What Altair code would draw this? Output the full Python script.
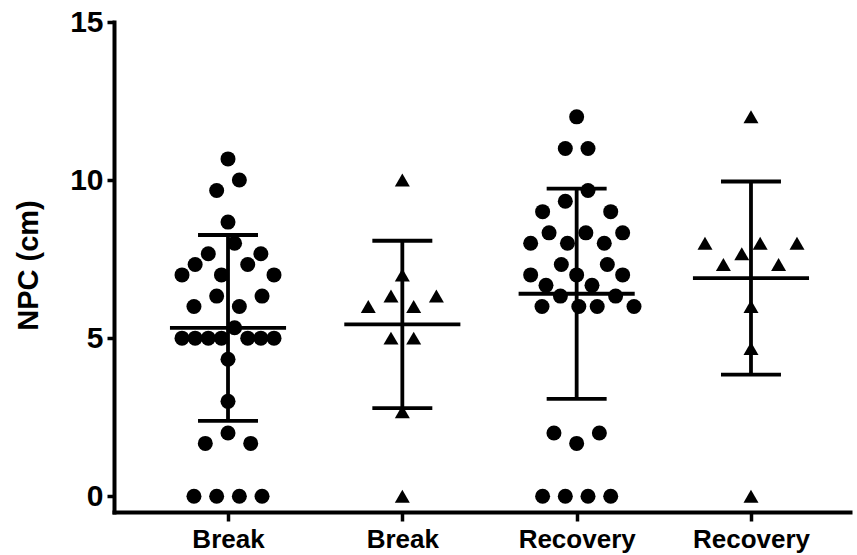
import json

import altair as alt
import pandas as pd

# Group labels along the x axis and the marker used for each group
groups = ["Break", "Break", "Recovery", "Recovery"]
markers = ["circle", "triangle", "circle", "triangle"]

# NPC values (cm) per group
break_circles = [10.67, 10, 9.67, 8.67, 8, 7.67, 7.67, 7.33, 7.33, 7, 7, 7,
                 6.33, 6.33, 6, 6, 5.33, 5, 5, 5, 5, 5, 5, 5, 4.33, 3, 2,
                 1.67, 1.67, 0, 0, 0, 0]
break_triangles = [10, 7, 6.33, 6.33, 6, 6, 5, 5, 2.67, 0]
recovery_circles = [12, 11, 11, 9.67, 9.33, 9, 9, 8.33, 8.33, 8.33, 8, 8, 8,
                    7.33, 7.33, 7, 7, 7, 6.67, 6.67, 6.33, 6.33, 6, 6, 6, 6,
                    2, 2, 1.67, 0, 0, 0, 0]
recovery_triangles = [12, 8, 8, 8, 7.67, 7.33, 7.33, 6, 4.67, 0]

series = [break_circles, break_triangles, recovery_circles, recovery_triangles]

# Plot geometry
PLOT_W, PLOT_H = 736, 490
X_DOMAIN = [0.346, 4.568]
Y_DOMAIN = [-0.5, 15]
PX_PER_X = PLOT_W / (X_DOMAIN[1] - X_DOMAIN[0])
PX_PER_Y = PLOT_H / (Y_DOMAIN[1] - Y_DOMAIN[0])
DOT = 15.0          # marker diameter, px
SLOT = 22.7         # preferred horizontal slot spacing, px
MAX_HALF = 46.0     # widest half-spread of one cluster, px
NEAR = 0.34         # values closer than this share a cluster
MAX_CLUSTER = 8


def scatter_offsets(values):
    """Horizontal px offsets for a column scatter: nearby values share evenly
    spaced, centred slots; neighbouring clusters are shifted if they touch."""
    counts = {}
    for v in values:
        counts[v] = counts.get(v, 0) + 1
    distinct = sorted(counts, reverse=True)

    clusters = []
    for v in distinct:
        if (clusters and clusters[-1][-1] - v <= NEAR
                and sum(counts[u] for u in clusters[-1]) + counts[v] <= MAX_CLUSTER):
            clusters[-1].append(v)
        else:
            clusters.append([v])

    placed = []
    slots = {v: [] for v in distinct}
    for cl in clusters:
        pts = []
        for v in cl:
            c = counts[v]
            pts += [((k + 0.5) / c, v) for k in range(c)]
        order = [v for _, v in sorted(pts)]
        n = len(order)
        step = min(SLOT, 2 * MAX_HALF / (n - 1)) if n > 1 else 0.0
        xs = [(k - (n - 1) / 2) * step for k in range(n)]

        def clashes(seq, shift):
            hits = 0
            for x, v in zip(xs, seq):
                for px, pv in placed:
                    dy = (v - pv) * PX_PER_Y
                    if ((x + shift - px) ** 2 + dy ** 2) ** 0.5 < DOT - 0.5:
                        hits += 1
            return hits

        best = None
        for shift in (0.0, SLOT / 2, -SLOT / 2):
            for seq in (order, order[::-1]):
                h = clashes(seq, shift)
                if best is None or h < best[0]:
                    best = (h, seq, shift)
        _, seq, shift = best
        for x, v in zip(xs, seq):
            placed.append((x + shift, v))
            slots[v].append(x + shift)
    return [slots[v].pop(0) for v in values]


records = []
for i, (name, marker, vals) in enumerate(zip(groups, markers, series)):
    pos = i + 1
    for v, off in zip(vals, scatter_offsets(vals)):
        records.append({"group": name, "pos": pos, "marker": marker,
                        "value": v, "x": pos + off / PX_PER_X})
df = pd.DataFrame(records)

FONT = "Liberation Sans"
x_scale = alt.Scale(domain=X_DOMAIN, nice=False, zero=False)
y_scale = alt.Scale(domain=Y_DOMAIN, nice=False, zero=False)
label_expr = json.dumps(groups) + "[datum.value - 1]"

x_axis = alt.Axis(values=[1, 2, 3, 4], labelExpr=label_expr,
                  tickSize=9, labelPadding=5, labelFontSize=26,
                  labelFlush=False, labelOverlap=False)
y_axis = alt.Axis(values=[0, 5, 10, 15], tickSize=7, labelPadding=4,
                  labelFontSize=30, titleFontSize=29, titleAngle=270,
                  titleX=-77, titleY=243, titleAlign="center",
                  titleBaseline="alphabetic")
Y_TITLE = "NPC (cm)"

base = alt.Chart(df)

points = base.mark_point(filled=True, size=DOT * DOT, opacity=1, color="black").encode(
    x=alt.X("x:Q", scale=x_scale, axis=x_axis, title=None),
    y=alt.Y("value:Q", scale=y_scale, axis=y_axis, title=Y_TITLE),
    shape=alt.Shape("marker:N",
                    scale=alt.Scale(domain=["circle", "triangle"],
                                    range=["circle", "triangle-up"]),
                    legend=None),
)

# Mean line and mean ± SD whiskers per group
stats = base.transform_aggregate(
    mean="mean(value)", sd="stdev(value)", groupby=["pos"]
).transform_calculate(
    hi="datum.mean + datum.sd",
    lo="datum.mean - datum.sd",
    ml="datum.pos - 0.333",
    mr="datum.pos + 0.333",
    cl="datum.pos - 0.172",
    cr="datum.pos + 0.172",
)

LW = 3.8


def xq(field):
    return alt.X(field, scale=x_scale, axis=x_axis, title=None)


def yq(field):
    return alt.Y(field, scale=y_scale, axis=y_axis, title=Y_TITLE)


mean_line = stats.mark_rule(color="black", strokeWidth=LW).encode(
    x=xq("ml:Q"), x2="mr:Q", y=yq("mean:Q"))
whisker = stats.mark_rule(color="black", strokeWidth=LW).encode(
    x=xq("pos:Q"), y=yq("lo:Q"), y2="hi:Q")
cap_hi = stats.mark_rule(color="black", strokeWidth=LW).encode(
    x=xq("cl:Q"), x2="cr:Q", y=yq("hi:Q"))
cap_lo = stats.mark_rule(color="black", strokeWidth=LW).encode(
    x=xq("cl:Q"), x2="cr:Q", y=yq("lo:Q"))

chart = alt.layer(points, whisker, mean_line, cap_hi, cap_lo).properties(
    width=PLOT_W,
    height=PLOT_H,
    padding={"left": 114, "top": 22, "right": 7, "bottom": 43},
    autosize=alt.AutoSizeParams(type="none"),
    background="white",
).configure_view(stroke=None).configure_axis(
    grid=False,
    domainColor="black",
    domainWidth=4,
    domainCap="square",
    tickColor="black",
    tickWidth=3.5,
    labelColor="black",
    titleColor="black",
    labelFont=FONT,
    titleFont=FONT,
    labelFontWeight="bold",
    titleFontWeight="bold",
)

chart.save("out.html", embed_options={"renderer": "svg", "actions": False})
